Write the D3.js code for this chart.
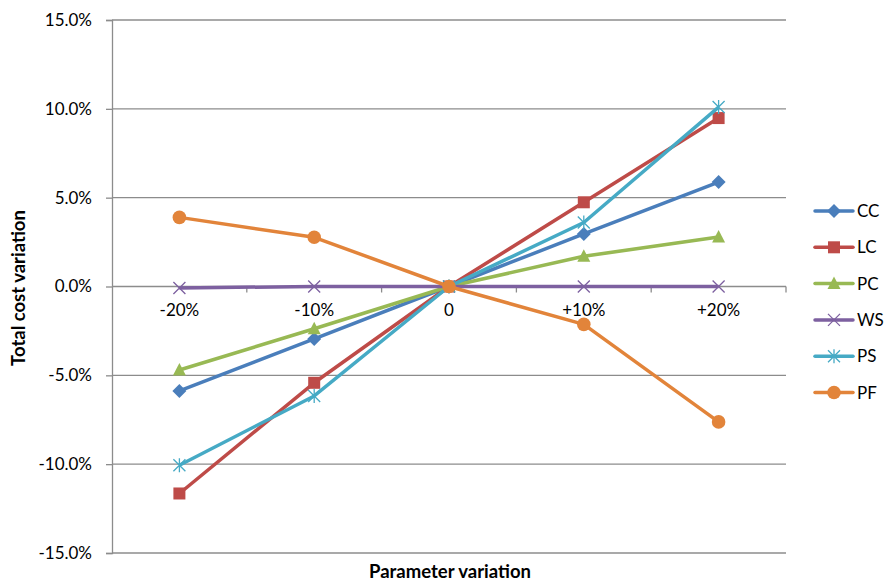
<!DOCTYPE html>
<html>
<head>
<meta charset="utf-8">
<script src="https://cdn.jsdelivr.net/npm/d3@7"></script>
<style>
  html, body { margin: 0; padding: 0; background: #fff; }
  svg { display: block; font-family: Lato, "Open Sans", sans-serif; }
</style>
</head>
<body>
<svg id="chart" width="889" height="584"></svg>
<script>
// Parameter variation steps (x categories)
const categories = ["-20%", "-10%", "0", "+10%", "+20%"];

// Total cost variation (%) per parameter
const CC = [-5.88, -2.95, 0, 2.96, 5.88];
const LC = [-11.65, -5.42, 0, 4.74, 9.48];
const PC = [-4.7, -2.38, 0, 1.7, 2.79];
const WS = [-0.08, 0.0, 0, 0.0, 0.0];
const PS = [-10.06, -6.16, 0, 3.6, 10.1];
const PF = [3.89, 2.77, 0, -2.13, -7.62];

const yTicks = [-15, -10, -5, 0, 5, 10, 15];

const series = [
  { name: "CC", values: CC, color: "#4A7EBB", marker: "diamond" },
  { name: "LC", values: LC, color: "#BE4B48", marker: "square" },
  { name: "PC", values: PC, color: "#98B954", marker: "triangle" },
  { name: "WS", values: WS, color: "#7D60A0", marker: "x" },
  { name: "PS", values: PS, color: "#46AAC5", marker: "asterisk" },
  { name: "PF", values: PF, color: "#E2843A", marker: "circle" }
];

const svg = d3.select("#chart");
const plotLeft = 112, plotRight = 786, plotTop = 20, plotBottom = 553;

const x = d3.scaleBand().domain(categories).range([plotLeft, plotRight]);
const y = d3.scaleLinear().domain([-15, 15]).range([plotBottom, plotTop]);
const cx = c => x(c) + x.bandwidth() / 2;

const grid = "#8c8c8c";
const textColor = "#000";
const tickFont = 17;
const titleFont = 18.5;

// horizontal gridlines
svg.append("g").selectAll("line").data(yTicks).join("line")
  .attr("x1", plotLeft).attr("x2", plotRight)
  .attr("y1", d => y(d)).attr("y2", d => y(d))
  .attr("stroke", grid).attr("stroke-width", 1.3);

// y axis (plain hyphen for negatives)
const yAxis = svg.append("g").attr("transform", `translate(${plotLeft},0)`)
  .call(d3.axisLeft(y).tickValues(yTicks).tickSize(6).tickPadding(14)
    .tickFormat(d => (d < 0 ? "-" : "") + Math.abs(d).toFixed(1) + "%"));
yAxis.select(".domain").attr("stroke", grid).attr("stroke-width", 1.3);
yAxis.selectAll(".tick line").attr("stroke", grid).attr("stroke-width", 1.3);
yAxis.selectAll(".tick text").attr("font-size", tickFont).attr("fill", textColor)
  .attr("font-family", "Lato, sans-serif");

// x axis on the zero line, ticks at category boundaries
const xAxis = svg.append("g").attr("transform", `translate(0,${y(0)})`)
  .call(d3.axisBottom(x).tickSize(0).tickPadding(17));
xAxis.select(".domain").remove();
xAxis.selectAll(".tick text").attr("font-size", tickFont).attr("fill", textColor)
  .attr("font-family", "Lato, sans-serif");
const bounds = categories.map(c => x(c)).concat([plotRight]).slice(1);
svg.append("g").selectAll("line").data(bounds).join("line")
  .attr("x1", d => d).attr("x2", d => d)
  .attr("y1", y(0)).attr("y2", y(0) + 6)
  .attr("stroke", grid).attr("stroke-width", 1.3);

// axis titles
svg.append("text").attr("x", 450).attr("y", 578)
  .attr("text-anchor", "middle").attr("font-weight", "bold").attr("font-size", titleFont)
  .attr("fill", textColor).text("Parameter variation");
svg.append("text").attr("transform", "translate(25,288) rotate(-90)")
  .attr("text-anchor", "middle").attr("font-weight", "bold").attr("font-size", titleFont)
  .attr("fill", textColor).text("Total cost variation");

// marker drawing
function drawMarker(g, type, color) {
  switch (type) {
    case "diamond":
      g.append("path").attr("d", "M0,-7L7,0L0,7L-7,0Z").attr("fill", color); break;
    case "square":
      g.append("rect").attr("x", -6).attr("y", -6).attr("width", 12).attr("height", 12).attr("fill", color); break;
    case "triangle":
      g.append("path").attr("d", "M0,-7L6.5,5.5L-6.5,5.5Z").attr("fill", color); break;
    case "x":
      g.append("path").attr("d", "M-6,-6L6,6M-6,6L6,-6").attr("stroke", color).attr("stroke-width", 1.3).attr("fill", "none"); break;
    case "asterisk":
      g.append("path").attr("d", "M-6,-6L6,6M-6,6L6,-6M0,-7L0,7").attr("stroke", color).attr("stroke-width", 1.3).attr("fill", "none"); break;
    case "circle":
      g.append("circle").attr("r", 6.8).attr("fill", color); break;
  }
}

const line = d3.line().x((d, i) => cx(categories[i])).y(d => y(d));

series.forEach(s => {
  const g = svg.append("g");
  g.append("path").attr("d", line(s.values)).attr("fill", "none")
    .attr("stroke", s.color).attr("stroke-width", 3.5).attr("stroke-linejoin", "round");
  s.values.forEach((v, i) => {
    const m = g.append("g").attr("transform", `translate(${cx(categories[i])},${y(v)})`);
    drawMarker(m, s.marker, s.color);
  });
});

// legend
const legend = svg.append("g");
series.forEach((s, i) => {
  const yy = 211 + i * 36.3;
  const row = legend.append("g");
  row.append("line").attr("x1", 815).attr("x2", 853).attr("y1", yy).attr("y2", yy)
    .attr("stroke", s.color).attr("stroke-width", 3.5).attr("stroke-linecap", "round");
  const m = row.append("g").attr("transform", `translate(834,${yy})`);
  drawMarker(m, s.marker, s.color);
  row.append("text").attr("x", 857).attr("y", yy).attr("dy", "0.36em")
    .attr("font-size", tickFont).attr("fill", textColor).text(s.name);
});
</script>
</body>
</html>
